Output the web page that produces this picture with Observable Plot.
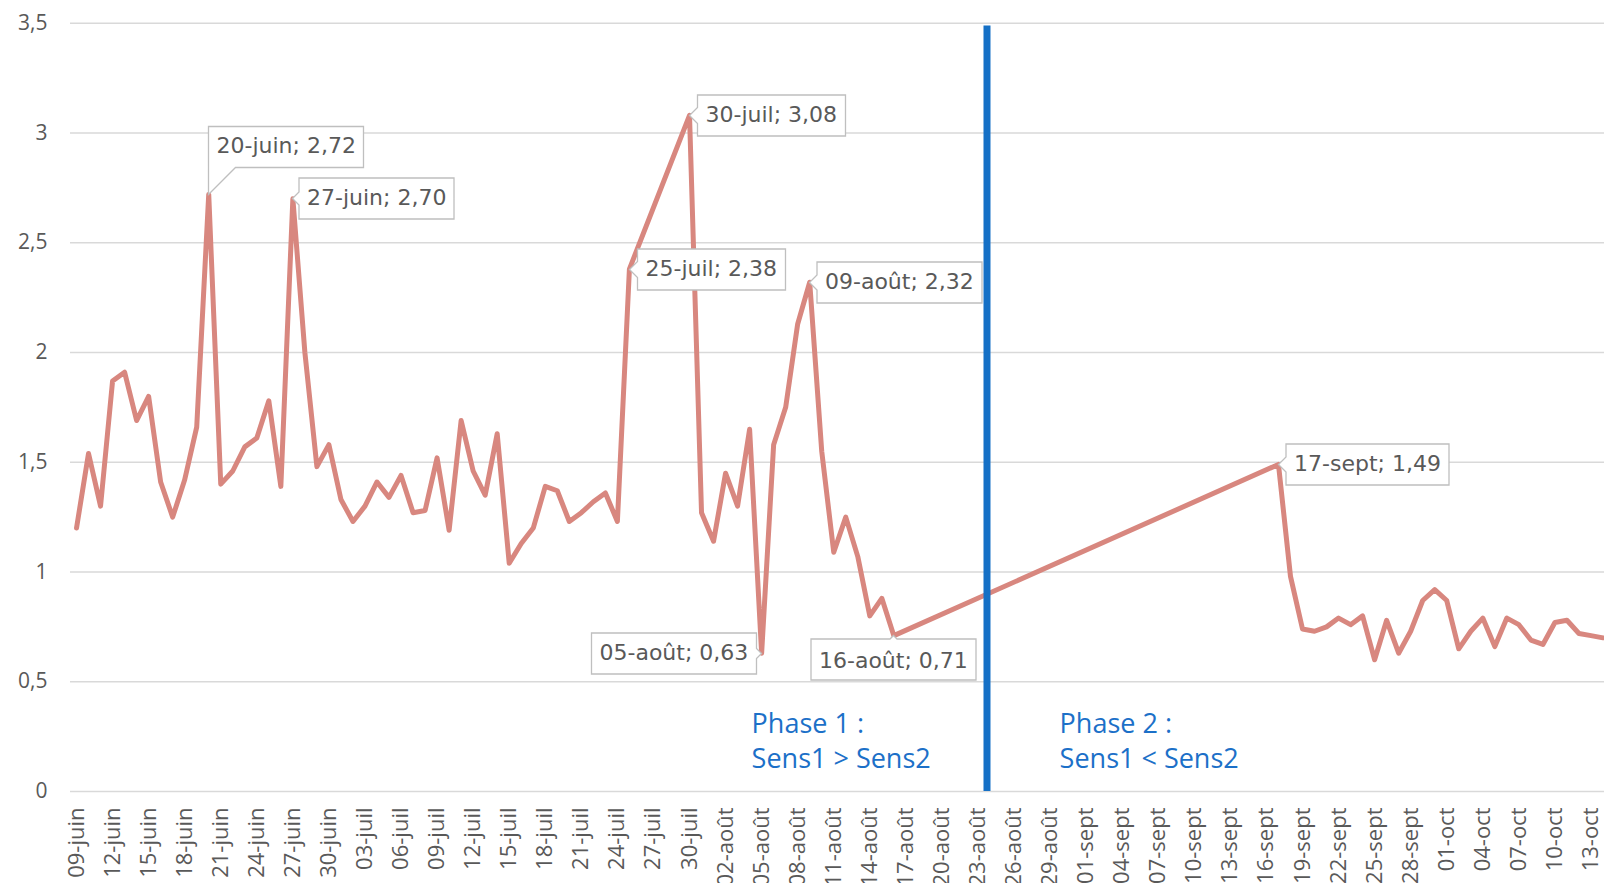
<!DOCTYPE html>
<html>
<head>
<meta charset="utf-8">
<script src="https://cdn.jsdelivr.net/npm/d3@7"></script>
<script src="https://cdn.jsdelivr.net/npm/@observablehq/plot@0.6"></script>
<style>
  html, body { margin: 0; padding: 0; background: #ffffff; overflow: hidden; }
  #chart svg { display: block; }
</style>
</head>
<body>
<div id="chart"></div>
<script>
// ---- data ----
const dates = [
  "2023-06-09","2023-06-10","2023-06-11","2023-06-12","2023-06-13","2023-06-14","2023-06-15","2023-06-16",
  "2023-06-17","2023-06-18","2023-06-19","2023-06-20","2023-06-21","2023-06-22","2023-06-23","2023-06-24",
  "2023-06-25","2023-06-26","2023-06-27","2023-06-28","2023-06-29","2023-06-30",
  "2023-07-01","2023-07-02","2023-07-03","2023-07-04","2023-07-05","2023-07-06","2023-07-07","2023-07-08",
  "2023-07-09","2023-07-10","2023-07-11","2023-07-12","2023-07-13","2023-07-14","2023-07-15","2023-07-16",
  "2023-07-17","2023-07-18","2023-07-19","2023-07-20","2023-07-21","2023-07-22","2023-07-23","2023-07-24",
  "2023-07-25","2023-07-30","2023-07-31",
  "2023-08-01","2023-08-02","2023-08-03","2023-08-04","2023-08-05","2023-08-06","2023-08-07","2023-08-08",
  "2023-08-09","2023-08-10","2023-08-11","2023-08-12","2023-08-13","2023-08-14","2023-08-15","2023-08-16",
  "2023-09-17","2023-09-18","2023-09-19","2023-09-20","2023-09-21","2023-09-22","2023-09-23","2023-09-24",
  "2023-09-25","2023-09-26","2023-09-27","2023-09-28","2023-09-29","2023-09-30",
  "2023-10-01","2023-10-02","2023-10-03","2023-10-04","2023-10-05","2023-10-06","2023-10-07","2023-10-08",
  "2023-10-09","2023-10-10","2023-10-11","2023-10-12","2023-10-13","2023-10-14"
];
const values = [
  1.20, 1.54, 1.30, 1.87, 1.91, 1.69, 1.80, 1.41,
  1.25, 1.42, 1.66, 2.72, 1.40, 1.46, 1.57, 1.61,
  1.78, 1.39, 2.70, 2.00, 1.48, 1.58,
  1.33, 1.23, 1.30, 1.41, 1.34, 1.44, 1.27, 1.28,
  1.52, 1.19, 1.69, 1.46, 1.35, 1.63, 1.04, 1.13,
  1.20, 1.39, 1.37, 1.23, 1.27, 1.32, 1.36, 1.23,
  2.38, 3.08, 1.27,
  1.14, 1.45, 1.30, 1.65, 0.63, 1.58, 1.75, 2.13,
  2.32, 1.55, 1.09, 1.25, 1.07, 0.80, 0.88, 0.71,
  1.49, 0.98, 0.74, 0.73, 0.75, 0.79, 0.76, 0.80,
  0.60, 0.78, 0.63, 0.73, 0.87, 0.92,
  0.87, 0.65, 0.73, 0.79, 0.66, 0.79, 0.76, 0.69,
  0.67, 0.77, 0.78, 0.72, 0.71, 0.70
];
const monthNames = ["janv", "févr", "mars", "avr", "mai", "juin", "juil", "août", "sept", "oct", "nov", "déc"];
const yTicks = [0, 0.5, 1, 1.5, 2, 2.5, 3, 3.5];
const firstTick = "2023-06-09";
const lastTick = "2023-10-13";
const tickStepDays = 3;
const calloutDates = ["2023-06-20", "2023-06-27", "2023-07-25", "2023-07-30", "2023-08-05", "2023-08-09", "2023-08-16", "2023-09-17"];
const phaseBoundary = ["2023-08-23T18:00Z"];
const phaseDates = ["2023-08-04T04:00Z", "2023-08-29T19:00Z"];
const phaseLabels = ["Phase 1 :\nSens1 > Sens2", "Phase 2 :\nSens1 < Sens2"];

// ---- build ----
const parse = s => new Date(s.length === 10 ? s + "T00:00Z" : s);
const series = dates.map((d, i) => ({date: parse(d), value: values[i]}));
const fmtDay = d => `${String(d.getUTCDate()).padStart(2, "0")}-${monthNames[d.getUTCMonth()]}`;
const fmtNum = v => String(v).replace(".", ",");
const tickDates = d3.utcDay.range(parse(firstTick), d3.utcDay.offset(parse(lastTick), 1), tickStepDays);

const placement = {
  "2023-06-20": {anchor: "bottom-left", pointerSize: 27},
  "2023-06-27": {anchor: "left", pointerSize: 13},
  "2023-07-25": {anchor: "left", pointerSize: 16},
  "2023-07-30": {anchor: "left", pointerSize: 16},
  "2023-08-05": {anchor: "right", pointerSize: 10},
  "2023-08-09": {anchor: "left", pointerSize: 15},
  "2023-08-16": {anchor: "top", pointerSize: 7},
  "2023-09-17": {anchor: "left", pointerSize: 15}
};
const callouts = calloutDates.map(k => {
  const p = series.find(s => +s.date === +parse(k));
  return {key: k, date: p.date, value: p.value, label: `${fmtDay(p.date)}; ${p.value.toFixed(2).replace(".", ",")}`};
});
const tipMarks = callouts.map(c => Plot.tip([c], {
  x: "date", y: "value", title: "label",
  anchor: placement[c.key].anchor,
  pointerSize: placement[c.key].pointerSize,
  textPadding: 8,
  fill: "white", stroke: "#BFBFBF", strokeWidth: 1.3,
  pathFilter: "none",
  fontFamily: "DejaVu Sans", fontSize: 22, lineHeight: 1
}));

const phases = phaseDates.map((d, i) => ({date: parse(d), label: phaseLabels[i]}));

const chart = Plot.plot({
  width: 1604,
  height: 883,
  marginLeft: 70,
  marginRight: 0,
  marginTop: 22.7,
  marginBottom: 92,
  style: {fontFamily: "Open Sans", color: "#595959", background: "white", overflow: "visible"},
  x: {type: "utc", domain: [parse("2023-06-08T12:00Z"), parse("2023-10-14T03:00Z")]},
  y: {domain: [0, 3.5]},
  marks: [
    Plot.gridY(yTicks, {stroke: "#D9D9D9", strokeOpacity: 1, strokeWidth: 1.5}),
    Plot.line(series, {x: "date", y: "value", stroke: "#D8877F", strokeWidth: 5, strokeLinejoin: "round", strokeLinecap: "round"}),
    Plot.ruleX(phaseBoundary.map(parse), {x: d => d, y1: 0, y2: 3.487, stroke: "#1570C6", strokeWidth: 7}),
    Plot.text(phases, {x: "date", y: 0.381, text: "label", textAnchor: "start", lineAnchor: "top", lineHeight: 1.3, fontSize: 27, fill: "#1C70C8", fontFamily: "Open Sans"}),
    ...tipMarks,
    Plot.axisY({ticks: yTicks, tickFormat: fmtNum, tickSize: 0, tickPadding: 23, fontSize: 21, label: null}),
    Plot.axisX({ticks: tickDates, tickFormat: fmtDay, tickRotate: -90, tickSize: 0, tickPadding: 16, fontSize: 22, label: null})
  ]
});
document.getElementById("chart").appendChild(chart);
</script>
</body>
</html>
